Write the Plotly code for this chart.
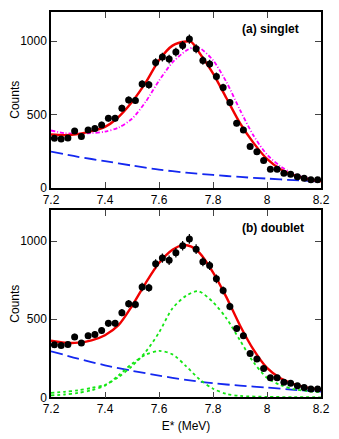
import plotly.graph_objects as go

# measured spectrum (same data in both panels)
e_pts = [7.2125, 7.2375, 7.2625, 7.2875, 7.3125, 7.3375, 7.3625, 7.3875, 7.4125, 7.4375,
         7.4625, 7.4875, 7.5125, 7.5375, 7.5625, 7.5875, 7.6125, 7.6375, 7.6625, 7.6875,
         7.7125, 7.7375, 7.7625, 7.7875, 7.8125, 7.8375, 7.8625, 7.8875, 7.9125, 7.9375,
         7.9625, 7.9875, 8.0125, 8.0375, 8.0625, 8.0875, 8.1125, 8.1375, 8.1625, 8.1875]
counts = [337, 332, 338, 387, 348, 394, 403, 428, 474, 474,
          542, 599, 595, 707, 702, 855, 892, 878, 926, 971,
          1015, 949, 869, 844, 759, 684, 581, 440, 394, 280,
          245, 184, 125, 125, 97, 90, 74, 63, 53, 53]
errs = [18, 18, 18, 20, 19, 20, 20, 21, 22, 22,
        23, 24, 24, 27, 26, 29, 30, 30, 30, 31,
        32, 31, 29, 29, 28, 26, 24, 21, 20, 17,
        16, 14, 11, 11, 10, 9, 9, 8, 7, 7]

# (a) singlet curves
e_fit_a = [7.20, 7.25, 7.30, 7.35, 7.40, 7.44, 7.50, 7.55, 7.60, 7.65, 7.70, 7.72,
           7.75, 7.80, 7.85, 7.90, 7.95, 8.00, 8.05, 8.10, 8.15, 8.20]
fit_a = [362, 358, 365, 385, 415, 465, 585, 715, 870, 970, 998, 995,
         920, 780, 610, 440, 305, 195, 125, 85, 58, 42]
e_alt_a = [7.20, 7.25, 7.30, 7.35, 7.40, 7.45, 7.50, 7.55, 7.60, 7.65, 7.70, 7.73,
           7.75, 7.80, 7.85, 7.90, 7.95, 8.00, 8.05, 8.10, 8.15, 8.20]
alt_a = [390, 372, 368, 372, 382, 410, 470, 585, 730, 855, 935, 960,
         955, 870, 720, 530, 355, 225, 145, 92, 62, 45]
e_bg = [7.2, 7.3, 7.4, 7.5, 7.6, 7.7, 7.8, 7.9, 8.0, 8.1, 8.2]
bg_a = [245, 210, 180, 150, 122, 102, 86, 72, 61, 50, 41]

# (b) doublet curves
e_fit_b = [7.20, 7.25, 7.30, 7.35, 7.40, 7.45, 7.50, 7.55, 7.60, 7.65, 7.69, 7.72,
           7.75, 7.80, 7.85, 7.90, 7.95, 8.00, 8.05, 8.10, 8.15, 8.20]
fit_b = [362, 350, 350, 365, 398, 462, 585, 730, 860, 945, 975, 965,
         925, 800, 640, 460, 305, 188, 122, 85, 62, 47]
bg_b = [295, 248, 205, 170, 139, 112, 90, 75, 62, 48, 36]
e_pk1 = [7.20, 7.25, 7.30, 7.35, 7.40, 7.45, 7.50, 7.55, 7.60, 7.65, 7.70,
         7.75, 7.80, 7.85, 7.90, 8.00, 8.10, 8.20]
pk1 = [12, 18, 28, 45, 75, 140, 215, 272, 297, 275, 200,
       115, 55, 22, 9, 3, 1, 0]
e_pk2 = [7.20, 7.25, 7.30, 7.35, 7.40, 7.45, 7.50, 7.55, 7.60, 7.65, 7.70, 7.745,
         7.80, 7.85, 7.90, 7.95, 8.00, 8.05, 8.10, 8.15, 8.20]
pk2 = [28, 35, 45, 60, 80, 130, 200, 290, 415, 570, 650, 680,
       610, 505, 365, 225, 125, 78, 52, 40, 33]

x_ticks = [7.2, 7.4, 7.6, 7.8, 8.0, 8.2]
x_labels = ['7.2', '7.4', '7.6', '7.8', '8', '8.2']
y_ticks = [0, 500, 1000]

RED = 'rgb(240,0,0)'
MAG = 'rgb(255,0,255)'
BLUE = 'rgb(20,40,240)'
GREEN = 'rgb(20,230,20)'

# page has an 8px body margin, so the figure is 8px smaller than the window
W, H = 331, 431

fig = go.Figure()

def add_panel(xa, ya, curves):
    for xs, ys, color, dash, w in curves:
        fig.add_trace(go.Scatter(x=xs, y=ys, mode='lines', xaxis=xa, yaxis=ya,
                                 line=dict(color=color, dash=dash, width=w, shape='spline', smoothing=0.8)))
    fig.add_trace(go.Scatter(x=e_pts, y=counts, mode='markers', xaxis=xa, yaxis=ya,
                             marker=dict(color='black', size=7),
                             error_y=dict(type='data', array=errs, color='black', thickness=1.2, width=0)))

add_panel('x', 'y', [
    (e_bg, bg_a, BLUE, '12px,5px', 1.8),
    (e_alt_a, alt_a, MAG, '4px,2px,1px,2px', 1.8),
    (e_fit_a, fit_a, RED, 'solid', 2.4),
])
add_panel('x2', 'y2', [
    (e_bg, bg_b, BLUE, '12px,5px', 1.8),
    (e_pk1, pk1, GREEN, 'dot', 1.8),
    (e_pk2, pk2, GREEN, 'dot', 1.8),
    (e_fit_b, fit_b, RED, 'solid', 2.4),
])

xax = dict(range=[7.2, 8.2], tickvals=x_ticks, ticktext=x_labels, ticks='inside', ticklen=6,
           tickwidth=1.3, showline=True, linecolor='black', linewidth=1.5, mirror='ticks',
           showgrid=False, zeroline=False, domain=[43/W, 313/W], automargin=False,
           tickfont=dict(size=12, color='black'))
yax = dict(range=[0, 1200], tickvals=y_ticks, ticks='inside', ticklen=6, tickwidth=1.3,
           showline=True, linecolor='black', linewidth=1.5, mirror='ticks', automargin=False,
           showgrid=False, zeroline=False, tickfont=dict(size=12, color='black'),
           title=dict(text='Counts', font=dict(size=12, color='black'), standoff=0))

fig.update_layout(
    width=W, height=H,
    margin=dict(l=0, r=0, t=0, b=0, autoexpand=False),
    paper_bgcolor='white', plot_bgcolor='white',
    font=dict(family='Liberation Sans, Arial, sans-serif', size=12, color='black'),
    showlegend=False,
    xaxis=dict(xax, anchor='y'),
    yaxis=dict(yax, anchor='x', domain=[(H-179.5)/H, (H-4)/H]),
    xaxis2=dict(xax, anchor='y2', title=dict(text='E* (MeV)', font=dict(size=12, color='black'), standoff=6)),
    yaxis2=dict(yax, anchor='x2', domain=[(H-389.3)/H, (H-202)/H]),
    annotations=[
        dict(text='<b>(a) singlet</b>', x=7.9, y=1085, xref='x', yref='y', xanchor='left',
             showarrow=False, font=dict(size=12, color='black')),
        dict(text='<b>(b) doublet</b>', x=7.9, y=1085, xref='x2', yref='y2', xanchor='left',
             showarrow=False, font=dict(size=12, color='black')),
    ],
)

fig.write_html("out.html")
